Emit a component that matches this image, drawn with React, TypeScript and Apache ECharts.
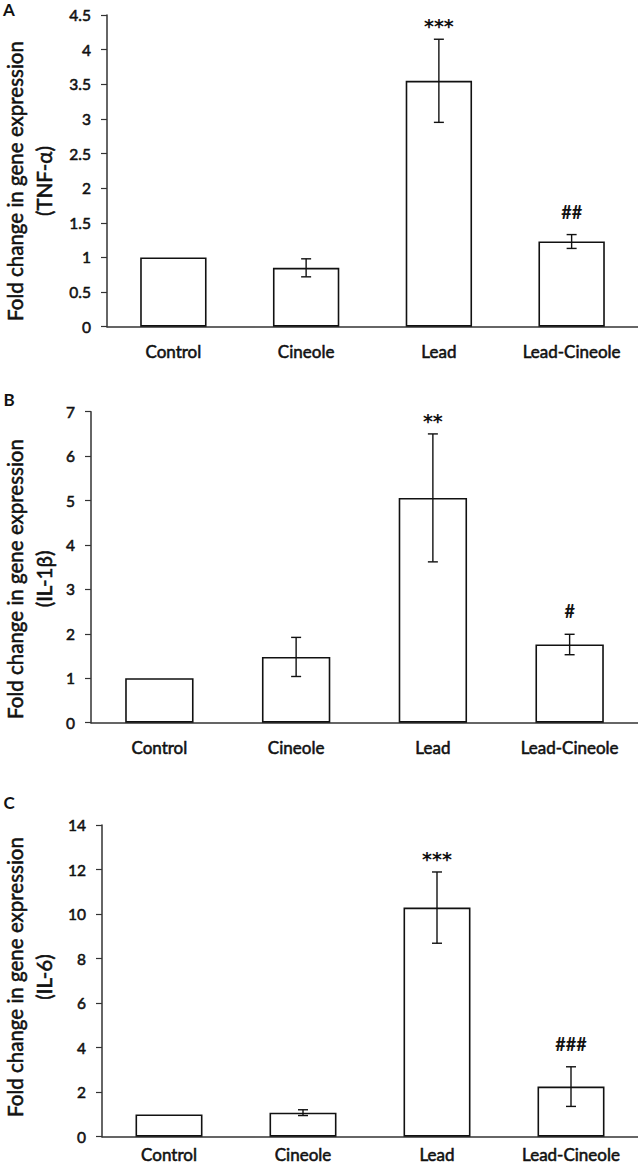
import React, { useEffect, useRef } from "react";
import * as echarts from "echarts";

const categories = ["Control", "Cineole", "Lead", "Lead-Cineole"];

const tnfMean = [1.0, 0.85, 3.55, 1.23];
const tnfErr = [0, 0.13, 0.6, 0.1];
const tnfSig = ["", "", "***", "##"];

const il1Mean = [1.0, 1.48, 5.06, 1.76];
const il1Err = [0, 0.44, 1.44, 0.23];
const il1Sig = ["", "", "**", "#"];

const il6Mean = [1.0, 1.08, 10.29, 2.25];
const il6Err = [0, 0.13, 1.6, 0.89];
const il6Sig = ["", "", "***", "###"];

const yMax = [4.5, 7, 14];
const yStep = [0.5, 1, 2];
const panelLetters = ["A", "B", "C"];
const yTitle = "Fold change in gene expression";
const geneNames = ["(TNF-α)", "(IL-1β)", "(IL-6)"];

const FONT = "Lato, 'Open Sans', sans-serif";
const INK = "#111111";
const AXIS = "#333333";
const EMB = 0.55;

export default function App() {
  const ref = useRef<HTMLDivElement>(null);
  useEffect(() => {
    document.body.style.margin = "0";
    const chart = echarts.init(ref.current!, undefined, { renderer: "svg" });

    const panels = [
      { mean: tnfMean, err: tnfErr, sig: tnfSig },
      { mean: il1Mean, err: il1Err, sig: il1Sig },
      { mean: il6Mean, err: il6Err, sig: il6Sig },
    ];
    const grids = [
      { left: 107, top: 15, height: 311.7, width: 544 },
      { left: 91, top: 411.7, height: 311, width: 556 },
      { left: 102, top: 825, height: 311.7, width: 544 },
    ];
    const xLabelMargin = [16, 16, 9];
    const nameCenters = [181, 579, 977];
    const letterY = [9, 399, 802];

    const series: any[] = [];
    panels.forEach((p, gi) => {
      series.push({
        type: "bar",
        xAxisIndex: gi,
        yAxisIndex: gi,
        data: p.mean,
        barWidth: "50%",
        itemStyle: { color: "#ffffff", borderColor: INK, borderWidth: 1.6 },
        silent: true,
      });
      series.push({
        type: "custom",
        xAxisIndex: gi,
        yAxisIndex: gi,
        data: p.mean.map((m, i) => [i, m, p.err[i]]),
        encode: { x: 0, y: 1 },
        z: 5,
        renderItem: (params: any, api: any) => {
          const i = params.dataIndex;
          const x = api.value(0);
          const m = api.value(1);
          const e = api.value(2);
          const top = api.coord([x, m + e]);
          const bot = api.coord([x, m - e]);
          const st = { stroke: INK, lineWidth: 1.4 };
          const hw = 5;
          const children: any[] = [];
          if (e > 0) {
            children.push(
              { type: "line", shape: { x1: top[0], y1: top[1], x2: bot[0], y2: bot[1] }, style: st },
              { type: "line", shape: { x1: top[0] - hw, y1: top[1], x2: top[0] + hw, y2: top[1] }, style: st },
              { type: "line", shape: { x1: bot[0] - hw, y1: bot[1], x2: bot[0] + hw, y2: bot[1] }, style: st }
            );
          }
          const s = p.sig[i];
          if (s) {
            const isStar = s.charAt(0) === "*";
            children.push({
              type: "text",
              x: top[0],
              y: top[1] - (isStar ? 13 : 23),
              style: {
                text: s,
                fill: INK,
                fontFamily: isStar ? "'DejaVu Sans', sans-serif" : FONT,
                fontSize: isStar ? 19 : 18,
                fontWeight: "bold",
                align: "center",
                verticalAlign: "middle",
              },
            });
          }
          return { type: "group", children };
        },
      });
    });

    const graphics: any[] = [];
    panels.forEach((_, gi) => {
      graphics.push({
        type: "text",
        x: 9,
        y: letterY[gi],
        style: {
          text: panelLetters[gi],
          fill: INK,
          fontFamily: FONT,
          fontSize: 17,
          fontWeight: "bold",
          align: "center",
          verticalAlign: "middle",
        },
      });
      [yTitle, geneNames[gi]].forEach((t, li) => {
        graphics.push({
          type: "text",
          x: li === 0 ? 15 : 44,
          y: nameCenters[gi],
          rotation: Math.PI / 2,
          style: {
            text: t,
            fill: INK,
            fontFamily: FONT,
            fontSize: 20.5,
            fontWeight: "normal",
            stroke: INK,
            lineWidth: EMB,
            align: "center",
            verticalAlign: "middle",
          },
        });
      });
    });

    chart.setOption({
      animation: false,
      backgroundColor: "#ffffff",
      textStyle: { fontFamily: FONT },
      grid: grids.map((g) => ({ ...g, containLabel: false })),
      xAxis: grids.map((_, gi) => ({
        type: "category",
        gridIndex: gi,
        data: categories,
        axisLine: { lineStyle: { color: AXIS, width: 1.5 } },
        axisTick: { show: false },
        axisLabel: {
          color: INK,
          fontFamily: FONT,
          fontSize: 17,
          fontWeight: "normal",
          textBorderColor: INK,
          textBorderWidth: EMB,
          margin: xLabelMargin[gi],
          interval: 0,
        },
      })),
      yAxis: grids.map((_, gi) => ({
        type: "value",
        gridIndex: gi,
        min: 0,
        max: yMax[gi],
        interval: yStep[gi],
        axisLine: { show: true, lineStyle: { color: AXIS, width: 1.5 } },
        axisTick: { show: true, length: 6, lineStyle: { color: AXIS, width: 1.2 } },
        splitLine: { show: false },
        axisLabel: {
          color: INK,
          fontFamily: FONT,
          fontSize: 15.5,
          fontWeight: "normal",
          textBorderColor: INK,
          textBorderWidth: EMB,
          margin: 16,
        },
      })),
      series,
      graphic: graphics,
    });

    return () => chart.dispose();
  }, []);

  return <div ref={ref} style={{ width: 638, height: 1168 }} />;
}
